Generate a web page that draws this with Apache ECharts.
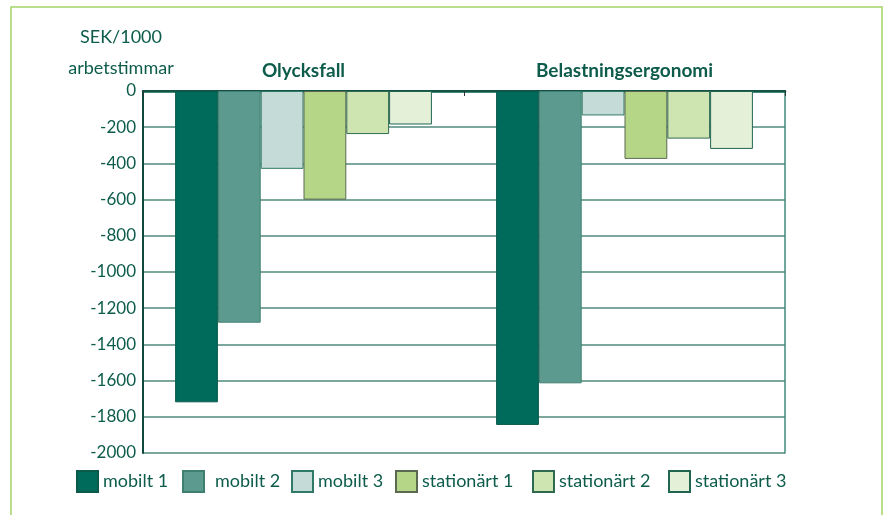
<!DOCTYPE html>
<html>
<head>
<meta charset="utf-8">
<script src="https://cdn.jsdelivr.net/npm/echarts@6/dist/echarts.min.js"></script>
<style>
  html, body { margin: 0; padding: 0; background: #fff; }
  #chart { width: 884px; height: 515px; }
</style>
</head>
<body>
<div id="chart"></div>
<script>
// kategorier och serier
const categories = ['Olycksfall', 'Belastningsergonomi']
const seriesNames = ['mobilt 1', 'mobilt 2', 'mobilt 3', 'stationärt 1', 'stationärt 2', 'stationärt 3']
const mobilt1 = [-1720, -1845]
const mobilt2 = [-1280, -1615]
const mobilt3 = [-430, -135]
const stationart1 = [-600, -375]
const stationart2 = [-238, -263]
const stationart3 = [-185, -320]
const yTicks = [0, -200, -400, -600, -800, -1000, -1200, -1400, -1600, -1800, -2000]

const values = [mobilt1, mobilt2, mobilt3, stationart1, stationart2, stationart3]
const colors = ['#006b5b', '#5c9a8f', '#c5dbd8', '#b5d687', '#cfe5b1', '#e5f0d8']
const borders = ['#0b5a4a', '#3e8070', '#2f7a66', '#5a6a50', '#2f6a50', '#1f6550']
const legendLeft = [76, 182, 291, 395, 532, 668]
const textColor = '#0d5c4b'
const font = 'Lato'

const chart = echarts.init(document.getElementById('chart'))
chart.setOption({
  backgroundColor: '#fff',
  animation: false,
  textStyle: { fontFamily: font },
  title: {
    text: 'SEK/1000\narbetstimmar',
    left: 116,
    top: 17,
    textAlign: 'center',
    textStyle: { fontFamily: font, fontSize: 18, fontWeight: 'normal', color: textColor, lineHeight: 31 }
  },
  graphic: [{
    type: 'rect',
    shape: { x: 11, y: 7, width: 871, height: 530 },
    style: { fill: 'none', stroke: '#a3d467', lineWidth: 1.5 },
    z: -1
  }],
  legend: seriesNames.map((n, i) => ({
    data: [n],
    left: legendLeft[i],
    top: 470,
    itemWidth: 21,
    itemHeight: 21,
    itemGap: 0,
    icon: 'rect',
    textStyle: { fontFamily: font, fontSize: 18, color: textColor, padding: [0, 0, 0, i === 1 ? 6 : 0] },
    padding: 0
  })),
  grid: { left: 143, right: 99, top: 91, bottom: 62 },
  xAxis: [{
    type: 'category',
    data: categories,
    position: 'top',
    axisLine: { lineStyle: { color: '#333', width: 2 } },
    axisTick: { show: true, inside: true, length: 5, lineStyle: { color: '#333' } },
    axisLabel: { fontFamily: font, fontSize: 19, fontWeight: 'bold', color: textColor, margin: 11 }
  }, {
    type: 'category',
    data: categories,
    position: 'bottom',
    axisLine: { lineStyle: { color: '#0d5c4b', width: 2.5 } },
    axisTick: { show: false },
    axisLabel: { show: false }
  }],
  yAxis: [{
    type: 'value',
    min: -2000,
    max: 0,
    interval: 200,
    axisLine: { show: true, lineStyle: { color: '#0d4a3d', width: 2 } },
    axisTick: { show: false },
    axisLabel: {
      fontFamily: font, fontSize: 17, color: textColor, margin: 7,
      formatter: v => yTicks.includes(v) ? String(v) : ''
    },
    splitLine: { lineStyle: { color: '#4f8a7c', width: 1.5 } }
  }, {
    type: 'value',
    min: -2000,
    max: 0,
    interval: 200,
    position: 'right',
    axisLine: { show: true, lineStyle: { color: '#3f8a78', width: 1.5 } },
    axisTick: { show: false },
    axisLabel: { show: false },
    splitLine: { show: false }
  }],
  series: seriesNames.map((n, i) => ({
    name: n,
    type: 'bar',
    data: values[i],
    barGap: 0,
    barCategoryGap: '20%',
    itemStyle: { color: colors[i], borderColor: borders[i], borderWidth: 1 }
  }))
})
</script>
</body>
</html>
